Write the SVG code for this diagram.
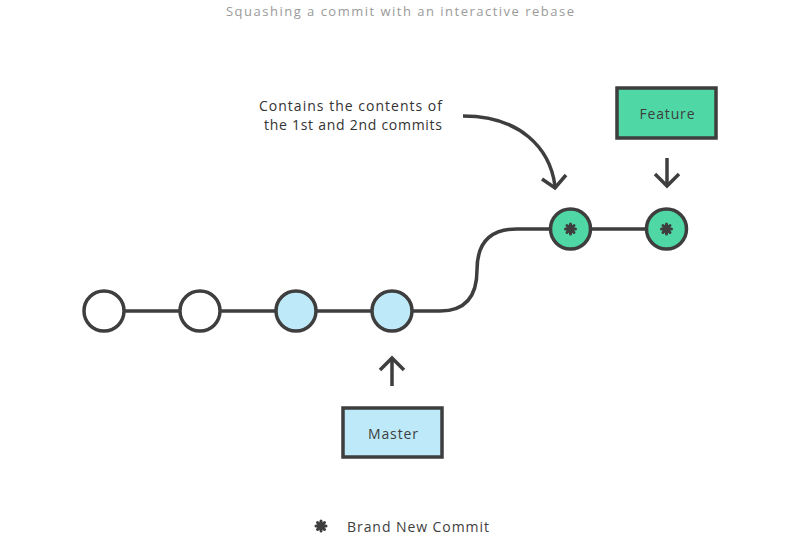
<svg xmlns="http://www.w3.org/2000/svg" xmlns:xlink="http://www.w3.org/1999/xlink" width="800" height="544" viewBox="0 0 800 544">
  <style>
    .line { fill: none; stroke: #3e3e3e; stroke-width: 3.5; }
    .commit { stroke: #3e3e3e; stroke-width: 3.5; }
    .old { fill: #ffffff; }
    .blue { fill: #bde9f9; }
    .green { fill: #4fd8a5; }
    .box { stroke: #3e3e3e; stroke-width: 3.5; }
    .arrow { fill: none; stroke: #3e3e3e; stroke-width: 3.5; stroke-linecap: butt; stroke-linejoin: miter; }
    text { font-family: "Open Sans", "Liberation Sans", sans-serif; }
    .label { font-size: 14px; fill: #3e3e3e; text-anchor: middle; }
    .note { font-size: 14px; fill: #333333; text-anchor: end; }
    .title { font-size: 13px; fill: #9a9a9a; text-anchor: middle; }
  </style>
  <defs>
    <g id="star">
      <g stroke="#3e3e3e" stroke-width="3" stroke-linecap="round">
        <line x1="-5" y1="0" x2="5" y2="0"/>
        <line x1="0" y1="-5" x2="0" y2="5"/>
        <line x1="-3.5" y1="-3.5" x2="3.5" y2="3.5"/>
        <line x1="-3.5" y1="3.5" x2="3.5" y2="-3.5"/>
      </g>
      <circle r="3.8" fill="#3e3e3e"/>
    </g>
  </defs>

  <text class="title" x="400" y="16" textLength="348" lengthAdjust="spacing">Squashing a commit with an interactive rebase</text>

  <g id="connectors">
    <path class="line" d="M104,311 H440 Q477,311 477,270 Q477,229 517,229 H667"/>
    <path class="arrow" d="M463,116 C520,116 550,148 555,186"/>
    <path class="arrow" d="M542,179 L555,188 L566,175"/>
    <path class="arrow" d="M667,158 V186"/>
    <path class="arrow" d="M655,174 L667,186 L679,174"/>
    <path class="arrow" d="M392,386 V358"/>
    <path class="arrow" d="M380,370 L392,358 L404,370"/>
  </g>

  <g id="commit1"><circle class="commit old" cx="104" cy="311" r="20"/></g>
  <g id="commit2"><circle class="commit old" cx="200" cy="311" r="20"/></g>
  <g id="commit3"><circle class="commit blue" cx="296" cy="311" r="20"/></g>
  <g id="commit4"><circle class="commit blue" cx="392" cy="311" r="20"/></g>
  <g id="commit5"><circle class="commit green" cx="570.5" cy="229" r="20"/><use xlink:href="#star" href="#star" x="570.5" y="229"/></g>
  <g id="commit6"><circle class="commit green" cx="666.5" cy="229" r="20"/><use xlink:href="#star" href="#star" x="666.5" y="229"/></g>

  <g id="feature">
    <rect class="box green" x="617" y="88" width="99" height="50"/>
    <text class="label" x="667" y="119" textLength="55" lengthAdjust="spacing">Feature</text>
  </g>

  <g id="master">
    <rect class="box blue" x="343" y="408" width="99" height="49"/>
    <text class="label" x="393" y="439" textLength="50" lengthAdjust="spacing">Master</text>
  </g>

  <g id="note">
    <text class="note" x="442" y="111" textLength="183" lengthAdjust="spacing">Contains the contents of</text>
    <text class="note" x="442" y="130" textLength="178" lengthAdjust="spacing">the 1st and 2nd commits</text>
  </g>

  <g id="legend">
    <use xlink:href="#star" href="#star" x="321" y="526"/>
    <text x="347" y="532" font-size="14" fill="#3e3e3e" textLength="142" lengthAdjust="spacing">Brand New Commit</text>
  </g>
</svg>
